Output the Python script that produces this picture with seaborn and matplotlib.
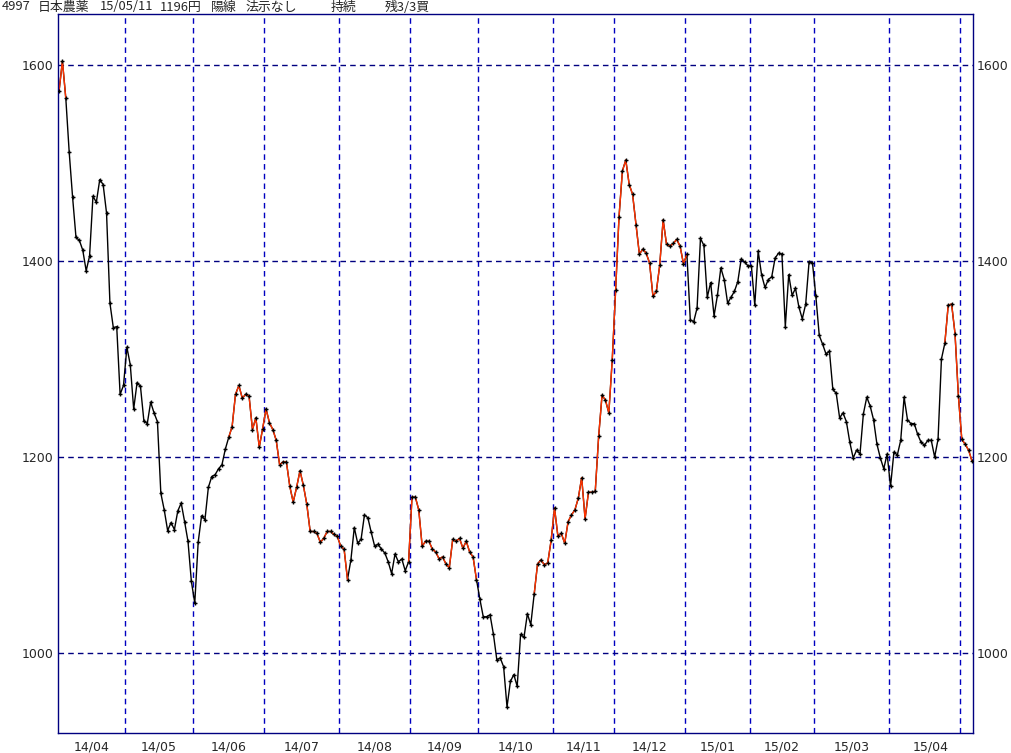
import numpy as np
import pandas as pd
import matplotlib
matplotlib.use('Agg')
import matplotlib.pyplot as plt
import seaborn as sns

# daily closes (yen), grouped by month
apr14 = [1573, 1604, 1566, 1511, 1465, 1424, 1421, 1411, 1390, 1405, 1466, 1460, 1483, 1478, 1449, 1357, 1332, 1333, 1264, 1273]
may14 = [1312, 1294, 1249, 1276, 1272, 1237, 1234, 1256, 1245, 1236, 1163, 1146, 1125, 1133, 1126, 1145, 1153, 1134, 1114, 1073]
jun14 = [1051, 1113, 1140, 1136, 1169, 1180, 1182, 1188, 1192, 1208, 1220, 1231, 1264, 1273, 1260, 1264, 1262, 1228, 1240, 1210, 1229]
jul14 = [1249, 1235, 1228, 1217, 1192, 1195, 1195, 1170, 1154, 1169, 1186, 1171, 1152, 1124, 1124, 1122, 1113, 1117, 1124, 1124, 1121, 1119]
aug14 = [1109, 1106, 1075, 1095, 1128, 1112, 1116, 1141, 1138, 1123, 1109, 1111, 1106, 1102, 1093, 1081, 1101, 1093, 1096, 1084, 1093]
sep14 = [1159, 1159, 1146, 1109, 1114, 1114, 1106, 1103, 1096, 1098, 1091, 1087, 1116, 1114, 1117, 1107, 1114, 1103, 1098, 1075]
oct14 = [1055, 1037, 1037, 1039, 1019, 993, 995, 986, 945, 971, 978, 966, 1019, 1016, 1040, 1029, 1060, 1091, 1095, 1090, 1092, 1115]
nov14 = [1148, 1119, 1122, 1112, 1134, 1141, 1146, 1158, 1179, 1137, 1164, 1164, 1165, 1221, 1263, 1258, 1245, 1299]
dec14 = [1370, 1445, 1492, 1503, 1478, 1468, 1437, 1407, 1412, 1408, 1398, 1364, 1369, 1396, 1442, 1417, 1415, 1418, 1422, 1415, 1397]
jan15 = [1407, 1340, 1338, 1352, 1423, 1416, 1363, 1378, 1344, 1365, 1393, 1381, 1357, 1363, 1369, 1379, 1402, 1399, 1395]
feb15 = [1395, 1355, 1410, 1386, 1373, 1381, 1384, 1403, 1408, 1407, 1333, 1386, 1365, 1372, 1353, 1341, 1356, 1399, 1398]
mar15 = [1364, 1324, 1315, 1305, 1308, 1269, 1265, 1240, 1245, 1236, 1215, 1199, 1207, 1203, 1244, 1261, 1252, 1238, 1213, 1199, 1188, 1203]
apr15 = [1170, 1205, 1202, 1217, 1261, 1238, 1234, 1234, 1223, 1215, 1212, 1217, 1217, 1200, 1218, 1300, 1316, 1355, 1356, 1326, 1262]
may15 = [1218, 1213, 1207, 1196]

# TSE holidays in the period
holidays = ['2014-04-29', '2014-05-05', '2014-05-06', '2014-07-21', '2014-09-15',
            '2014-09-23', '2014-10-13', '2014-11-03', '2014-11-24', '2014-12-23',
            '2014-12-31', '2015-01-01', '2015-01-02', '2015-01-12', '2015-02-11',
            '2015-04-29', '2015-05-04', '2015-05-05', '2015-05-06']

# stretches (trading day index from, to) drawn in red
red_spans = [(0, 2), (50, 85), (103, 123), (140, 185), (261, 269)]

month_labels = ['14/04', '14/05', '14/06', '14/07', '14/08', '14/09', '14/10',
                '14/11', '14/12', '15/01', '15/02', '15/03', '15/04']

# header words and their left edge in pixels
header = ['4997', '日本農薬', '15/05/11', '1196円', '陽線', '法示なし', '持続', '残3/3買']
header_x = [2, 38, 100, 160, 211, 246, 331, 385]

close = apr14 + may14 + jun14 + jul14 + aug14 + sep14 + oct14 + nov14 + dec14 + jan15 + feb15 + mar15 + apr15 + may15
days = pd.bdate_range('2014-04-02', '2015-05-11')
days = days[~days.isin(pd.to_datetime(holidays))]
df = pd.DataFrame({'date': days, 'close': close})
df['i'] = np.arange(len(df))

# month boundaries between last day of a month and first of the next
mon = df['date'].dt.to_period('M')
bounds = [i - 0.5 for i in df['i'][mon != mon.shift()].tolist()[1:]]

sns.set_style('white')
navy = '#000080'
red = '#ff3300'
num_font = ['Liberation Sans Narrow', 'DejaVu Sans']
jp_font = ['Noto Sans CJK JP', 'DejaVu Sans']

fig = plt.figure(figsize=(10.12, 7.53), dpi=100)
ax = fig.add_axes([58 / 1012, 20 / 753, 915 / 1012, 719 / 753])

sns.lineplot(data=df, x='i', y='close', color='black', lw=1, ax=ax)
for a, b in red_spans:
    sns.lineplot(data=df.iloc[a:b + 1], x='i', y='close', color=red, lw=1, ax=ax)
sns.scatterplot(data=df, x='i', y='close', marker='+', color='black', s=12, linewidth=1, ax=ax, zorder=4)

ax.set_xlim(-0.3, 269.3)
ax.set_ylim(918.4, 1652)
for b in bounds:
    ax.axvline(b, color='#0000c0', lw=1, ls=(0, (4, 3)), zorder=1)
for v in [1000, 1200, 1400, 1600]:
    ax.axhline(v, color=navy, lw=1, ls=(0, (4, 3)), zorder=1)

ax.set_yticks([1000, 1200, 1400, 1600])
ax.tick_params(axis='y', length=0, pad=3, labelsize=9, labelleft=True, labelright=True)
for t in ax.get_yticklabels():
    t.set_family(num_font)
ax.set_xticks([])
ax.set_xlabel('')
ax.set_ylabel('')
for s in ax.spines.values():
    s.set_color(navy)
    s.set_linewidth(1)
    s.set_visible(True)

# month names centred in their month span
edges = [-0.3] + bounds
for k, lab in enumerate(month_labels):
    left = edges[k]
    right = edges[k + 1] if k + 1 < len(month_labels) else 269.3
    ax.text((left + right) / 2, -0.011, lab, transform=ax.get_xaxis_transform(),
            ha='center', va='top', fontsize=9, family=num_font)

for word, px in zip(header, header_x):
    fig.text(px / 1012, 1 - 7 / 753, word, ha='left', va='center', fontsize=9.3, family=jp_font)

fig.savefig('out.png', dpi=100)
